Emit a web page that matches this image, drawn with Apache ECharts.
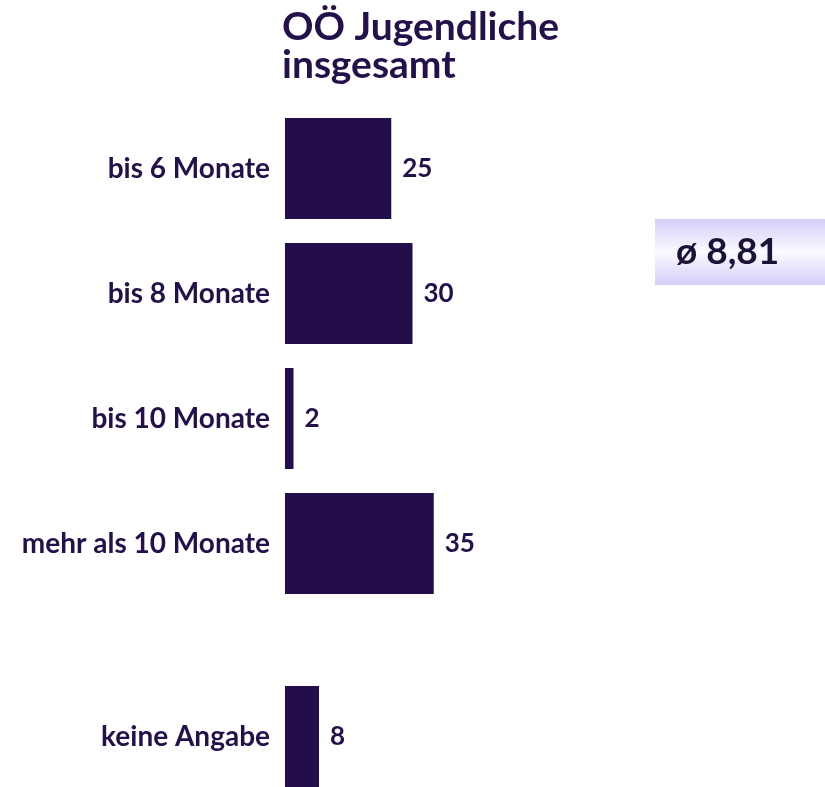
<!DOCTYPE html>
<html>
<head>
<meta charset="utf-8">
<script src="https://cdn.jsdelivr.net/npm/echarts@6/dist/echarts.min.js"></script>
<style>
  html, body { margin: 0; padding: 0; background: #fff; }
  #chart { width: 825px; height: 787px; }
</style>
</head>
<body>
<div id="chart"></div>
<script>
  const categories = ['bis 6 Monate', 'bis 8 Monate', 'bis 10 Monate', 'mehr als 10 Monate'];
  const values = [25, 30, 2, 35];
  const otherCategories = ['keine Angabe'];
  const otherValues = [8];
  const average = '8,81';

  const barColor = '#230d4b';
  const textColor = '#24104a';
  const font = 'Lato, "Open Sans", sans-serif';

  const chart = echarts.init(document.getElementById('chart'));

  const yAxisStyle = {
    type: 'category',
    inverse: true,
    axisLine: { show: false },
    axisTick: { show: false },
    axisLabel: {
      margin: 15,
      color: textColor,
      fontSize: 28,
      fontWeight: 'bold',
      fontFamily: font,
      padding: [5, 0, 0, 0],
    },
  };

  const xAxisStyle = {
    type: 'value',
    min: 0,
    max: 100,
    show: false,
  };

  const barLabel = {
    show: true,
    position: 'right',
    distance: 11,
    color: textColor,
    fontSize: 26,
    fontWeight: 'bold',
    fontFamily: font,
    padding: [4, 0, 0, 0],
  };

  chart.setOption({
    animation: false,
    title: {
      text: 'OÖ Jugendliche\ninsgesamt',
      left: 277,
      top: 3,
      textStyle: {
        color: textColor,
        fontSize: 39,
        fontWeight: 'bold',
        fontFamily: font,
        lineHeight: 38,
      },
    },
    grid: [
      { left: 285, width: 425, top: 106, height: 500 },
      { left: 285, width: 425, top: 686, height: 125 },
    ],
    xAxis: [
      Object.assign({ gridIndex: 0 }, xAxisStyle),
      Object.assign({ gridIndex: 1 }, xAxisStyle),
    ],
    yAxis: [
      Object.assign({ gridIndex: 0, data: categories }, yAxisStyle),
      Object.assign({ gridIndex: 1, data: otherCategories }, yAxisStyle),
    ],
    series: [
      {
        type: 'bar',
        xAxisIndex: 0,
        yAxisIndex: 0,
        data: values,
        barWidth: 101,
        itemStyle: { color: barColor },
        label: barLabel,
      },
      {
        type: 'bar',
        xAxisIndex: 1,
        yAxisIndex: 1,
        data: otherValues,
        barWidth: 101,
        itemStyle: { color: barColor },
        label: barLabel,
      },
    ],
    graphic: [
      {
        type: 'rect',
        left: 655,
        top: 219,
        shape: { width: 170, height: 66 },
        style: {
          fill: new echarts.graphic.LinearGradient(0, 0, 0, 1, [
            { offset: 0, color: '#d6cdfa' },
            { offset: 0.5, color: '#fbfaff' },
            { offset: 1, color: '#d6cdfa' },
          ]),
        },
      },
      {
        type: 'text',
        left: 676,
        top: 234,
        style: {
          text: 'ø ' + average,
          fill: '#1c1236',
          fontSize: 37,
          fontWeight: 'bold',
          fontFamily: font,
        },
      },
    ],
  });
</script>
</body>
</html>
